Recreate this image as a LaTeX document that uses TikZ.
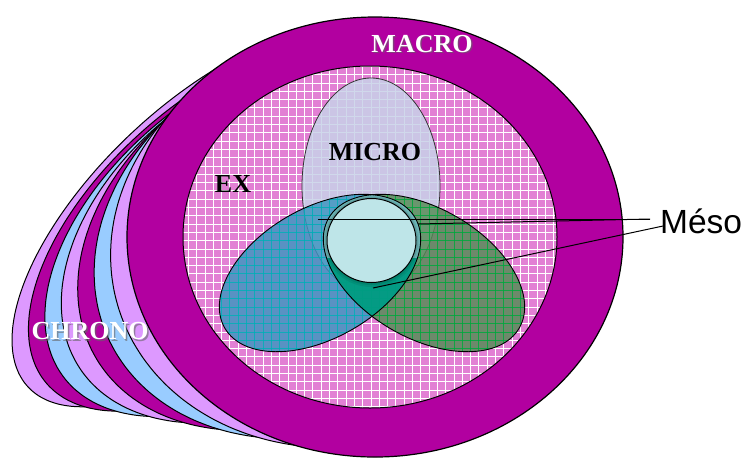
\documentclass[tikz,border=0pt]{standalone}
\usepackage{fontspec}
\setmainfont{Liberation Serif}
\newfontfamily\mesofont{Liberation Sans}
\definecolor{macro}{RGB}{178,0,160}
\definecolor{lav}{RGB}{221,153,255}
\definecolor{sky}{RGB}{153,204,255}
\definecolor{expink}{RGB}{226,128,212}
\definecolor{microfill}{RGB}{200,210,232}
\definecolor{leafL}{RGB}{60,150,192}
\definecolor{gridL}{RGB}{0,172,182}
\definecolor{leafR}{RGB}{84,140,84}
\definecolor{gridR}{RGB}{0,165,60}
\definecolor{lenscol}{RGB}{0,156,134}
\definecolor{mesocol}{RGB}{190,229,232}
\newcommand\mygridlines[1]{%
  \foreach \i in {0,...,46} \draw[#1] ({180+8.3*\i},55) -- ({180+8.3*\i},420);
  \foreach \j in {0,...,44} \draw[#1] (175,{58+8.3*\j}) -- (565,{58+8.3*\j});
}
\begin{document}
\begin{tikzpicture}[x=1pt,y=-1pt,
  layerline/.style={draw=black, line width=1pt},
  lbl/.style={font=\bfseries\fontsize{26}{30}\selectfont, inner sep=0pt},
  connector/.style={draw=black, line width=1pt}]
\useasboundingbox (0,0) rectangle (746,459);
% chrono layers (back to front)
\foreach \k/\col in {7/lav,6/macro,5/sky,4/lav,3/macro,2/sky,1/lav} {
  \pgfmathsetmacro\t{\k/7}
  \pgfmathsetmacro\Xo{375-163*\t}
  \pgfmathsetmacro\Ax{248-48*\t}
  \pgfmathsetmacro\Yo{237-21*\t+30*\t*(1-\t)}
  \pgfmathsetmacro\Ry{220-75*\t}
  \pgfmathsetmacro\Gs{124*\t}
  \filldraw[layerline, fill=\col] plot[smooth cycle, samples=72, domain=0:355]
     ({\Xo+\Ax*cos(\x)}, {\Yo+\Ry*sin(\x)-\Gs*cos(\x)});
}
% macro
\filldraw[fill=macro, draw=black, line width=1.2pt] (375,237) ellipse [x radius=248pt, y radius=220pt];
% exo
\begin{scope}
  \clip (370,237) ellipse [x radius=187pt, y radius=171pt];
  \fill[expink] (175,55) rectangle (565,420);
  \mygridlines{white, line width=0.7pt}
\end{scope}
\draw[black, line width=1pt] (370,237) ellipse [x radius=187pt, y radius=171pt];
% micro
\fill[microfill, opacity=0.85] (371,186) ellipse [x radius=69pt, y radius=108pt];
\draw[black!80, line width=0.8pt] (371,186) ellipse [x radius=69pt, y radius=108pt];
% left leaf
\begin{scope}
  \clip[rotate around={30:(320,273)}] (320,273) ellipse [x radius=110pt, y radius=65pt];
  \fill[leafL, opacity=0.82] (200,180) rectangle (560,370);
  \mygridlines{gridL, opacity=0.85, line width=0.8pt}
\end{scope}
% right leaf
\begin{scope}
  \clip[rotate around={-30:(424,273)}] (424,273) ellipse [x radius=110pt, y radius=65pt];
  \fill[leafR, opacity=0.82] (200,180) rectangle (560,370);
  \mygridlines{gridR, opacity=0.85, line width=0.8pt}
\end{scope}
% lens
\begin{scope}
  \clip[rotate around={30:(320,273)}] (320,273) ellipse [x radius=110pt, y radius=65pt];
  \clip[rotate around={-30:(424,273)}] (424,273) ellipse [x radius=110pt, y radius=65pt];
  \fill[lenscol, opacity=0.95] (300,180) rectangle (450,330);
  \fill[microfill, opacity=0.55] (300,180) rectangle (450,258);
\end{scope}
\draw[black, line width=0.9pt, rotate around={30:(320,273)}] (320,273) ellipse [x radius=110pt, y radius=65pt];
\draw[black, line width=0.9pt, rotate around={-30:(424,273)}] (424,273) ellipse [x radius=110pt, y radius=65pt];
% meso circle
\fill[black, opacity=0.07] (371.5,241.5) ellipse [x radius=48pt, y radius=45.5pt];
\fill[black, opacity=0.09] (371.5,241) ellipse [x radius=46.5pt, y radius=44pt];
\filldraw[fill=mesocol, draw=black, line width=1pt] (371.5,240.5) ellipse [x radius=44.5pt, y radius=42pt];
% labels
\node[lbl, text=black!60, opacity=0.6] (macroshadow) at (423.5,45.5) {MACRO};
\node[lbl, text=white] (macrolbl) at (422,44) {MACRO};
\node[lbl, text=black] (microlbl) at (375,152) {MICRO};
\node[lbl, text=black] (exlbl) at (233,184) {EX};
\node[lbl, text=black!60, opacity=0.6] (chronoshadow) at (91.5,333) {CHRONO};
\node[lbl, text=white] (chronolbl) at (90,331.5) {CHRONO};
\node[anchor=base west, inner sep=0pt, font=\mesofont\fontsize{33.5}{38}\selectfont] (meso) at (660,233) {Méso};
% connectors
\coordinate (m1) at (318,219);
\coordinate (m2) at (418,224);
\coordinate (m3) at (373,288);
\coordinate (e1) at (650,219);
\coordinate (e3) at (663,226);
\draw[connector] (m1) -- (e1);
\draw[connector] (m2) -- (e1);
\draw[connector] (m3) -- (e3);
\end{tikzpicture}
\end{document}
